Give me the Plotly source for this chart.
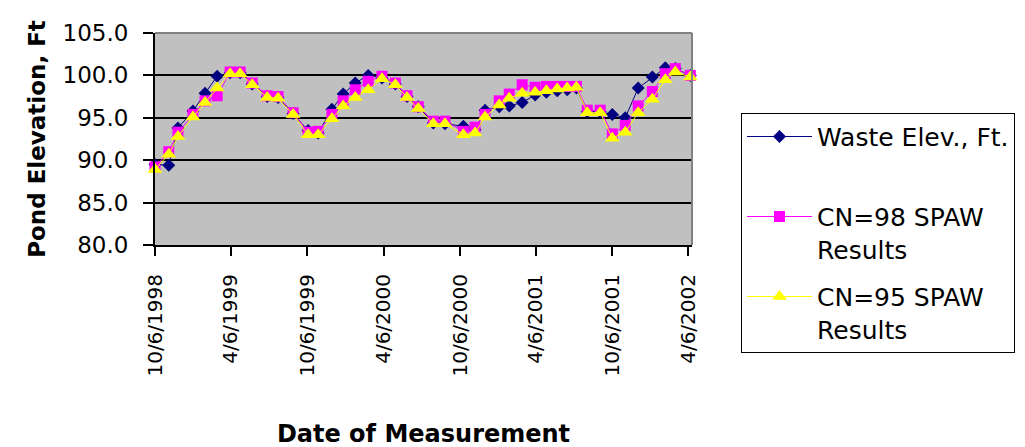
import plotly.graph_objects as go

# Measurement dates
dates = [
    "1998-10-06", "1998-11-08", "1998-11-30", "1999-01-05", "1999-02-03", "1999-03-04",
    "1999-04-04", "1999-04-28", "1999-05-27", "1999-07-02", "1999-07-28", "1999-09-02",
    "1999-10-08", "1999-11-01", "1999-12-04", "1999-12-31", "2000-01-29", "2000-02-29",
    "2000-04-02", "2000-05-04", "2000-06-01", "2000-06-28", "2000-08-03", "2000-08-31",
    "2000-10-14", "2000-11-11", "2000-12-05", "2001-01-08", "2001-02-01", "2001-03-04",
    "2001-04-04", "2001-05-01", "2001-05-27", "2001-06-20", "2001-07-12", "2001-08-07",
    "2001-09-07", "2001-10-06", "2001-11-06", "2001-12-07", "2002-01-10", "2002-02-10",
    "2002-03-06", "2002-04-11",
]

waste_elev = [
    89.5, 89.4, 93.8, 95.8, 97.9, 99.9, 100.3, 100.3, 99.0, 97.5, 97.4, 95.5,
    93.5, 93.2, 96.0, 97.8, 99.1, 100.0, 99.7, 99.0, 97.5, 96.3, 94.4, 94.3,
    94.0, 93.6, 95.9, 96.3, 96.4, 96.8, 97.7, 98.0, 98.2, 98.3, 98.5, 95.7,
    95.7, 95.4, 95.0, 98.5, 99.8, 100.9, 100.8, 100.0,
]

cn98 = [
    89.2, 91.0, 93.3, 95.4, 97.0, 97.6, 100.4, 100.4, 99.1, 97.6, 97.5, 95.6,
    93.3, 93.4, 95.4, 97.0, 98.3, 99.3, 99.9, 99.1, 97.6, 96.3, 94.6, 94.6,
    93.4, 93.9, 95.4, 97.0, 97.8, 98.9, 98.6, 98.7, 98.7, 98.7, 98.7, 95.9,
    95.9, 93.1, 94.1, 96.4, 98.1, 100.2, 100.8, 100.0,
]

cn95 = [
    88.9, 90.7, 92.8, 95.1, 96.8, 98.5, 100.2, 100.2, 98.9, 97.4, 97.3, 95.4,
    93.0, 93.0, 94.9, 96.4, 97.4, 98.3, 99.6, 98.9, 97.4, 96.1, 94.3, 94.3,
    93.0, 93.2, 95.1, 96.5, 97.3, 97.9, 98.0, 98.2, 98.4, 98.5, 98.6, 95.6,
    95.6, 92.6, 93.3, 95.6, 97.2, 99.5, 100.4, 99.8,
]

tick_dates = ["1998-10-06", "1999-04-06", "1999-10-06", "2000-04-06",
              "2000-10-06", "2001-04-06", "2001-10-06", "2002-04-06"]
tick_text = ["10/6/1998", "4/6/1999", "10/6/1999", "4/6/2000",
             "10/6/2000", "4/6/2001", "10/6/2001", "4/6/2002"]
y_ticks = [80, 85, 90, 95, 100, 105]

FONT = "DejaVu Sans"

fig = go.Figure()
fig.add_trace(go.Scatter(
    x=dates, y=waste_elev, mode="lines+markers", name="Waste Elev., Ft.<br> ",
    legendgroup="a", cliponaxis=False,
    line=dict(color="#000080", width=1),
    marker=dict(symbol="diamond", size=10, color="#000080"),
))
fig.add_trace(go.Scatter(
    x=dates, y=cn98, mode="lines+markers", name="CN=98 SPAW<br>Results",
    legendgroup="b", cliponaxis=False,
    line=dict(color="#FF00FF", width=1),
    marker=dict(symbol="square", size=11, color="#FF00FF"),
))
fig.add_trace(go.Scatter(
    x=dates, y=cn95, mode="lines+markers", name="CN=95 SPAW<br>Results",
    legendgroup="c", cliponaxis=False,
    line=dict(color="#FFFF00", width=1),
    marker=dict(symbol="triangle-up", size=13, color="#FFFF00"),
))

ML, MT, PW, PH = 147, 22, 537, 218

fig.update_layout(
    width=1025, height=447,
    margin=dict(l=ML, r=1025 - ML - PW, t=MT, b=447 - MT - PH),
    paper_bgcolor="white",
    plot_bgcolor="#C0C0C0",
    font=dict(family=FONT, color="black"),
    legend=dict(
        x=(733 - ML) / PW, y=(MT + PH - 104) / PH, xanchor="left", yanchor="top",
        bordercolor="black", borderwidth=1, bgcolor="white",
        font=dict(family=FONT, size=25, color="black"),
        valign="top", tracegroupgap=12, traceorder="grouped",
        itemwidth=65, maxheight=400,
    ),
    xaxis=dict(
        type="date",
        range=["1998-10-06", "2002-04-15"],
        tickvals=tick_dates, ticktext=tick_text,
        tickangle=-90,
        tickfont=dict(family=FONT, size=20, color="black"),
        ticks="outside", ticklen=9, tickwidth=2, tickcolor="black",
        showline=True, linecolor="black", linewidth=2,
        showgrid=False, zeroline=False,
        ticklabelstandoff=10,
        title=dict(text="<b>Date of Measurement</b>",
                   font=dict(family=FONT, size=24, color="black"),
                   standoff=50),
    ),
    yaxis=dict(
        range=[80, 105],
        tickvals=y_ticks, tickformat=".1f",
        tickfont=dict(family=FONT, size=23, color="black"),
        ticks="outside", ticklen=10, tickwidth=2, tickcolor="black",
        showline=True, linecolor="black", linewidth=2,
        showgrid=True, gridcolor="black", gridwidth=2,
        zeroline=False,
        ticklabelstandoff=10,
        title=dict(text="<b>Pond Elevation, Ft</b>",
                   font=dict(family=FONT, size=23, color="black"),
                   standoff=10),
    ),
    shapes=[
        dict(type="line", xref="paper", yref="paper", x0=0, x1=1, y0=1, y1=1,
             line=dict(color="#808080", width=2), layer="above"),
        dict(type="line", xref="paper", yref="paper", x0=1, x1=1, y0=0, y1=1,
             line=dict(color="#808080", width=2), layer="above"),
    ],
)

fig.write_html("out.html")
